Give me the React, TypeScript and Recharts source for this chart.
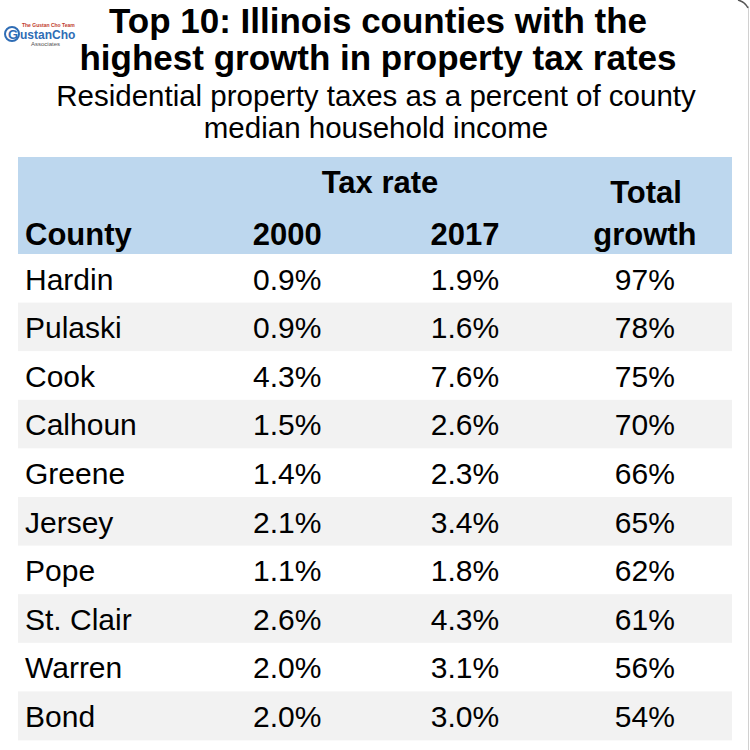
import React from 'react';
import { BarChart, Bar, XAxis, YAxis } from 'recharts';

const counties = ['Hardin', 'Pulaski', 'Cook', 'Calhoun', 'Greene', 'Jersey', 'Pope', 'St. Clair', 'Warren', 'Bond'];
const rate2000 = [0.9, 0.9, 4.3, 1.5, 1.4, 2.1, 1.1, 2.6, 2.0, 2.0];
const rate2017 = [1.9, 1.6, 7.6, 2.6, 2.3, 3.4, 1.8, 4.3, 3.1, 3.0];
const totalGrowth = [97, 78, 75, 70, 66, 65, 62, 61, 56, 54];

const titleLines = ['Top 10: Illinois counties with the', 'highest growth in property tax rates'];
const subtitleLines = ['Residential property taxes as a percent of county', 'median household income'];

const FONT = '"Liberation Sans", Arial, Helvetica, sans-serif';
const HEADER_BG = '#bdd7ee';
const STRIPE = '#f2f2f2';

// column centres, as a fraction of the table width
const COLS = { county: 0.01, y2000: 0.377, y2017: 0.626, growth: 0.878 };

const rows = counties.map((county, i) => ({
    county,
    r2000: rate2000[i],
    r2017: rate2017[i],
    growth: totalGrowth[i],
    band: 1,
}));

const RowShape = (props: any) => {
    const { x, y, width, height, payload, index } = props;
    const base = y + height / 2 + 11;
    const txt = { fontFamily: FONT, fontSize: 30, fill: '#000' };
    return (
        <g>
            <rect x={x} y={y} width={width} height={height} fill={index % 2 === 1 ? STRIPE : '#ffffff'} />
            <text x={x + 7} y={base} {...txt}>{payload.county}</text>
            <text x={x + width * COLS.y2000} y={base} textAnchor="middle" {...txt}>{payload.r2000.toFixed(1)}%</text>
            <text x={x + width * COLS.y2017} y={base} textAnchor="middle" {...txt}>{payload.r2017.toFixed(1)}%</text>
            <text x={x + width * COLS.growth} y={base} textAnchor="middle" {...txt}>{payload.growth}%</text>
        </g>
    );
};

const Header = () => {
    const bold = { fontFamily: FONT, fontSize: 31, fontWeight: 700, fill: '#000' };
    return (
        <svg width={750} height={257} style={{ position: 'absolute', left: 0, top: 0 }}>
            {/* logo */}
            <g fontFamily={FONT}>
                <text x={22} y={27} fontSize={5} fill="#c0392b" fontWeight={700}>The Gustan Cho Team</text>
                <circle cx={12} cy={34} r={7} fill="none" stroke="#2f6db5" strokeWidth={2} />
                <text x={8} y={39} fontSize={13} fill="#2f6db5" fontWeight={700}>G</text>
                <text x={20} y={39} fontSize={12} fill="#2f6db5" fontWeight={700}>ustanCho</text>
                <text x={31} y={46} fontSize={6} fill="#555">Associates</text>
            </g>
            {titleLines.map((t, i) => (
                <text key={t} x={378} y={33 + i * 37} textAnchor="middle" fontFamily={FONT} fontSize={35} fontWeight={700} fill="#000">
                    {t}
                </text>
            ))}
            {subtitleLines.map((t, i) => (
                <text key={t} x={376} y={106 + i * 32} textAnchor="middle" fontFamily={FONT} fontSize={29.5} fill="#000">
                    {t}
                </text>
            ))}
            <rect x={18} y={157} width={714} height={97} fill={HEADER_BG} />
            <text x={380} y={193} textAnchor="middle" {...bold}>Tax rate</text>
            <text x={646} y={203} textAnchor="middle" {...bold}>Total</text>
            <text x={25} y={245} {...bold}>County</text>
            <text x={18 + 714 * COLS.y2000} y={245} textAnchor="middle" {...bold}>2000</text>
            <text x={18 + 714 * COLS.y2017} y={245} textAnchor="middle" {...bold}>2017</text>
            <text x={18 + 714 * COLS.growth} y={245} textAnchor="middle" {...bold}>growth</text>
            <line x1={748.5} y1={6} x2={748.5} y2={257} stroke="#d0d0d0" strokeWidth={1} />
            <path d="M738 0 Q745 2 748 8" fill="none" stroke="#555" strokeWidth={1.5} />
        </svg>
    );
};

const App: React.FC = () => {
    return (
        <div style={{ position: 'absolute', left: 0, top: 0, width: 750, height: 750, background: '#fff', fontFamily: FONT }}>
            <Header />
            <div style={{ position: 'absolute', left: 0, top: 254 }}>
                <BarChart
                    width={750}
                    height={496}
                    data={rows}
                    layout="vertical"
                    barCategoryGap={0}
                    margin={{ top: 0, right: 18, bottom: 10, left: 18 }}
                >
                    <XAxis type="number" domain={[0, 1]} hide />
                    <YAxis type="category" dataKey="county" hide />
                    <Bar dataKey="band" shape={<RowShape />} isAnimationActive={false} />
                </BarChart>
                <svg width={750} height={496} style={{ position: 'absolute', left: 0, top: 0, pointerEvents: 'none' }}>
                    <line x1={748.5} y1={0} x2={748.5} y2={496} stroke="#d0d0d0" strokeWidth={1} />
                </svg>
            </div>
        </div>
    );
};

export default App;
